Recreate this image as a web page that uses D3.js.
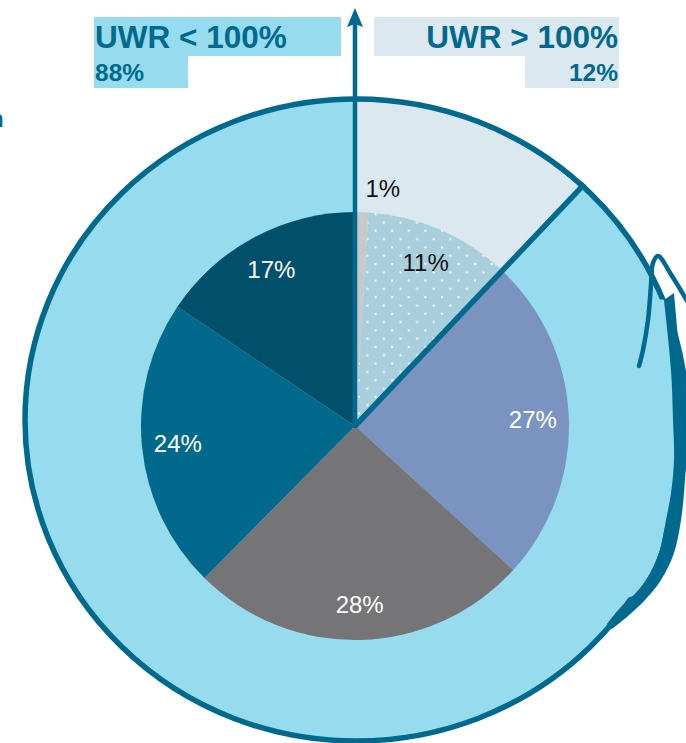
<!DOCTYPE html>
<html>
<head>
<meta charset="utf-8">
<script src="https://cdn.jsdelivr.net/npm/d3@7/dist/d3.min.js"></script>
<style>
  html, body { margin: 0; padding: 0; background: #ffffff; }
  svg { display: block; font-family: "Liberation Sans", Arial, sans-serif; }
</style>
</head>
<body>
<script>
// Outer ring: share of portfolio above / below 100% UWR (clockwise from 12 o'clock)
const outerCategories = ["UWR > 100%", "UWR < 100%"];
const outerValues = [12, 88];

// Inner breakdown within each outer group, clockwise
const innerHighValues = [1, 11];
const innerLowValues = [27, 28, 24, 17];

// Palettes
const outerColors = ["#dbe8ef", "#96dcee"];
const innerHighColors = ["#c9c9c9", "url(#dots)"];
const innerLowColors = ["#7a93c1", "#757476", "#00698c", "#004f6b"];
const innerHighText = ["#111111", "#111111"];
const innerLowText = ["#ffffff", "#ffffff", "#ffffff", "#ffffff"];

const W = 686, H = 743;
const accent = "#006a8e";

const svg = d3.select("body").append("svg")
  .attr("width", W).attr("height", H);

// Dotted fill for the 11% slice
const defs = svg.append("defs");
const pat = defs.append("pattern")
  .attr("id", "dots").attr("patternUnits", "userSpaceOnUse")
  .attr("width", 16.6).attr("height", 16.6);
pat.append("rect").attr("width", 16.6).attr("height", 16.6).attr("fill", "#aacfdc");
pat.append("rect").attr("x", 3).attr("y", 3).attr("width", 2).attr("height", 2).attr("fill", "#ffffff").attr("opacity", 0.9);
pat.append("rect").attr("x", 11.3).attr("y", 11.3).attr("width", 2).attr("height", 2).attr("fill", "#ffffff").attr("opacity", 0.9);

// Geometry
const ocx = 356, ocy = 420, orx = 331, ory = 321;
const icx = 355, icy = 426, ir = 214;

// Outer ring (slightly elliptical)
const outerPie = d3.pie().sort(null).value(d => d);
const outerArcs = outerPie(outerValues);
const outerArc = d3.arc().innerRadius(0).outerRadius(orx);

const outerG = svg.append("g")
  .attr("transform", `translate(${ocx},${ocy}) scale(1,${ory / orx})`);
outerG.selectAll("path").data(outerArcs).join("path")
  .attr("d", outerArc)
  .attr("fill", (d, i) => outerColors[i]);

svg.append("ellipse")
  .attr("cx", ocx).attr("cy", ocy).attr("rx", orx).attr("ry", ory)
  .attr("fill", "none").attr("stroke", accent).attr("stroke-width", 5.5);

// Hand-drawn retouch along the right edge of the ring: a heavier band that
// bulges past the outline and tapers back into it near the bottom
const rimOuter = [[674, 293], [681, 370], [686, 420], [686, 460], [684, 493],
                  [681, 520], [674, 553], [661, 580], [645, 600], [628, 616], [612, 629]];
const rimInner = [[664, 300], [671, 370], [673, 420], [674, 460], [671, 493],
                  [666, 520], [659, 553], [646, 580], [633, 596], [620, 608], [607, 624]];
const rimLine = d3.line().curve(d3.curveCatmullRom);
svg.append("path")
  .attr("d", rimLine([[640, 310], ...rimInner.slice(0, 9), [618, 598]]) + "Z")
  .attr("fill", outerColors[1]);
svg.append("path")
  .attr("d", rimLine(rimOuter) + "L" + rimLine(rimInner.slice().reverse()).slice(1) + "Z")
  .attr("fill", accent);
svg.append("path")
  .attr("d", rimLine([[639, 366], [643, 350], [648, 320], [651, 285], [653, 263], [658, 256], [672, 276], [690, 306]]))
  .attr("fill", "none").attr("stroke", accent).attr("stroke-width", 4.5)
  .attr("stroke-linejoin", "round").attr("stroke-linecap", "round");

// Inner pie: each group's breakdown spans its outer sector
const innerSets = [
  { values: innerHighValues, colors: innerHighColors, text: innerHighText },
  { values: innerLowValues, colors: innerLowColors, text: innerLowText }
];
const innerArc = d3.arc().innerRadius(0).outerRadius(ir);
const labelArc = d3.arc().innerRadius(178).outerRadius(178);
const outsideArc = d3.arc().innerRadius(238).outerRadius(238);

const innerG = svg.append("g").attr("transform", `translate(${icx},${icy})`);
innerSets.forEach((set, gi) => {
  const parent = outerArcs[gi];
  const slices = d3.pie().sort(null).value(d => d)
    .startAngle(parent.startAngle).endAngle(parent.endAngle)(set.values);
  innerG.append("g").selectAll("path").data(slices).join("path")
    .attr("d", innerArc)
    .attr("fill", (d, i) => set.colors[i]);
  slices.forEach((d, i) => {
    const small = d.data < 3;
    const [x, y] = (small ? outsideArc : labelArc).centroid(d);
    innerG.append("text")
      .attr("x", small ? x + 3 : x).attr("y", y)
      .attr("dy", "0.36em")
      .attr("text-anchor", small ? "start" : "middle")
      .attr("font-size", 24)
      .attr("fill", set.text[i])
      .text(d.data + "%");
  });
});

// Divider between groups at the boundary angle, plus vertical arrow at 0°
const bAngle = outerArcs[0].endAngle;
const bx = ocx + (orx + 3) * Math.sin(bAngle), by = ocy - (ory + 3) * Math.cos(bAngle);
svg.append("line")
  .attr("x1", icx).attr("y1", icy).attr("x2", bx).attr("y2", by)
  .attr("stroke", accent).attr("stroke-width", 5.5);

svg.append("line")
  .attr("x1", icx).attr("y1", icy + 2).attr("x2", icx).attr("y2", 24)
  .attr("stroke", accent).attr("stroke-width", 4.5);
svg.append("path")
  .attr("d", `M${icx},8 L${icx - 8},27 L${icx},24 L${icx + 8},27 Z`)
  .attr("fill", accent);

// Group headers
const headers = [
  { title: outerCategories[1], value: outerValues[1], side: "left" },
  { title: outerCategories[0], value: outerValues[0], side: "right" }
];
const hdr = svg.append("g");
headers.forEach(h => {
  const fill = h.side === "left" ? outerColors[1] : outerColors[0];
  if (h.side === "left") {
    hdr.append("rect").attr("x", 94).attr("y", 17).attr("width", 247).attr("height", 39).attr("fill", fill);
    hdr.append("rect").attr("x", 94).attr("y", 56).attr("width", 94).attr("height", 32).attr("fill", fill);
    hdr.append("text").attr("x", 95).attr("y", 48).attr("font-size", 31.5).attr("font-weight", "bold")
      .attr("fill", accent).text(h.title);
    hdr.append("text").attr("x", 95).attr("y", 81).attr("font-size", 24.5).attr("font-weight", "bold")
      .attr("fill", accent).text(h.value + "%");
  } else {
    hdr.append("rect").attr("x", 374).attr("y", 17).attr("width", 245).attr("height", 39).attr("fill", fill);
    hdr.append("rect").attr("x", 525).attr("y", 56).attr("width", 94).attr("height", 32).attr("fill", fill);
    hdr.append("text").attr("x", 618).attr("y", 48).attr("font-size", 31.5).attr("font-weight", "bold")
      .attr("text-anchor", "end").attr("fill", accent).text(h.title);
    hdr.append("text").attr("x", 618).attr("y", 81).attr("font-size", 24.5).attr("font-weight", "bold")
      .attr("text-anchor", "end").attr("fill", accent).text(h.value + "%");
  }
});

// Clipped glyph at the left margin
svg.append("text").attr("x", -11).attr("y", 127).attr("font-size", 24).attr("font-weight", "bold")
  .attr("fill", accent).text("n");
</script>
</body>
</html>
